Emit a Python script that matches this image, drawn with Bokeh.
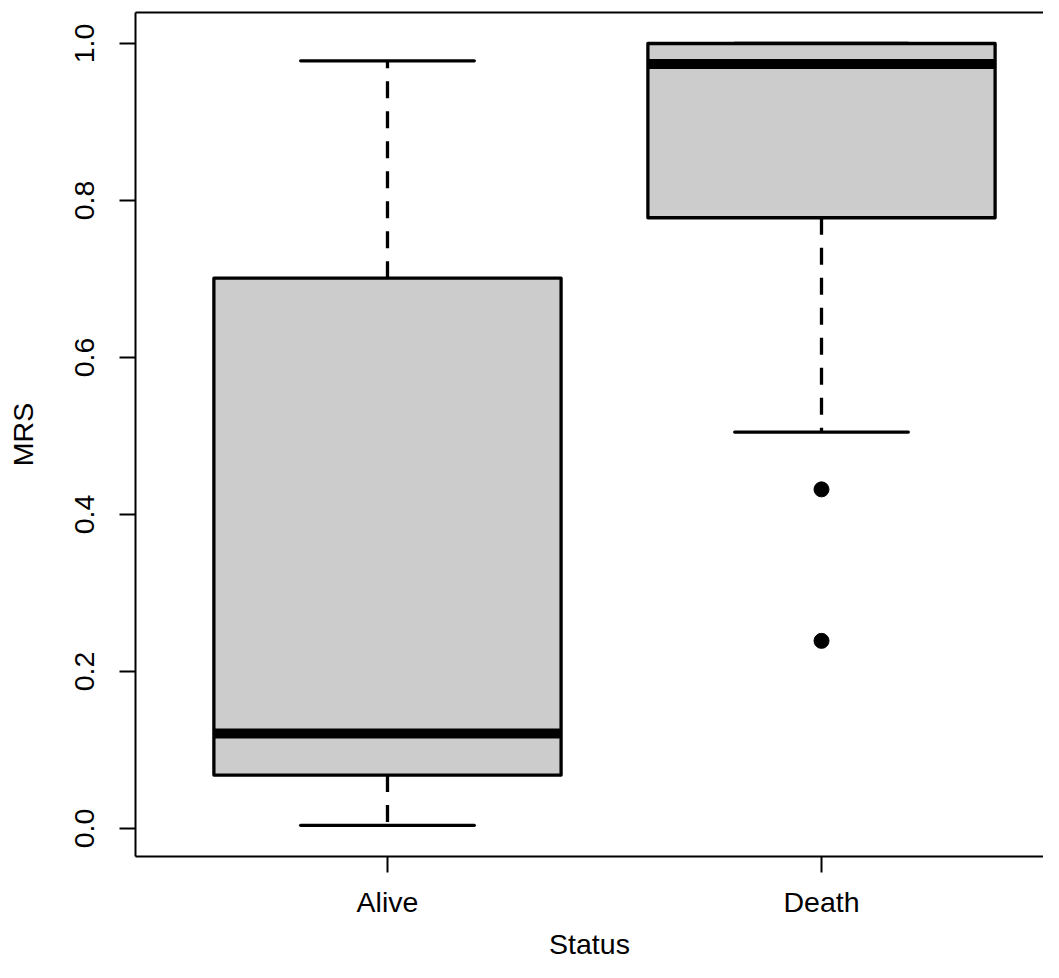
import numpy as np
from bokeh.plotting import figure
from bokeh.models import Range1d, FixedTicker, LinearAxis, PrintfTickFormatter, ColumnDataSource
from bokeh.embed import file_html
from bokeh.resources import INLINE

# ---- data ----
categories = ["Alive", "Death"]
lower_whisker = [0.004, 0.505]
q1 = [0.068, 0.778]
median = [0.121, 0.974]
q3 = [0.701, 1.000]
upper_whisker = [0.978, 1.000]
outlier_group = ["Death", "Death"]
outlier_values = [0.432, 0.239]
y_ticks = [0.0, 0.2, 0.4, 0.6, 0.8, 1.0]
x_label = "Status"
y_label = "MRS"

xpos = np.arange(1, len(categories) + 1, dtype=float)
box_half = 0.4
cap_half = 0.2

src = ColumnDataSource(dict(
    x=xpos,
    left=xpos - box_half, right=xpos + box_half,
    capl=xpos - cap_half, capr=xpos + cap_half,
    lw=lower_whisker, q1=q1, med=median, q3=q3, uw=upper_whisker,
))
out_x = [float(categories.index(g) + 1) for g in outlier_group]
out_src = ColumnDataSource(dict(x=out_x, y=outlier_values))

p = figure(
    width=1043, height=962,
    x_range=Range1d(0.4194, 2.5115), y_range=Range1d(-0.0357, 1.0395),
    output_backend="svg", toolbar_location=None,
    min_border_left=135, min_border_right=0, min_border_top=12, min_border_bottom=106,
)
p.outline_line_color = None
p.xgrid.visible = False
p.ygrid.visible = False
p.background_fill_color = "white"
p.border_fill_color = "white"

FONT = "Liberation Sans"
FS = "28.5px"

# whiskers (dashed)
p.segment(x0="x", y0="q3", x1="x", y1="uw", source=src, line_color="black",
          line_width=3.3, line_dash="17 13", line_cap="butt")
p.segment(x0="x", y0="q1", x1="x", y1="lw", source=src, line_color="black",
          line_width=3.3, line_dash="17 13", line_cap="butt")
# caps
p.segment(x0="capl", y0="uw", x1="capr", y1="uw", source=src, line_color="black",
          line_width=3.3, line_cap="round")
p.segment(x0="capl", y0="lw", x1="capr", y1="lw", source=src, line_color="black",
          line_width=3.3, line_cap="round")
# boxes
p.quad(left="left", right="right", bottom="q1", top="q3", source=src,
       fill_color="#CCCCCC", line_color="black", line_width=3.3, line_join="round")
# medians
p.segment(x0="left", y0="med", x1="right", y1="med", source=src, line_color="black",
          line_width=10, line_cap="butt")
# outliers
p.scatter(x="x", y="y", source=out_src, size=15, marker="circle",
          fill_color="black", line_color="black")

# x axis
xa = p.xaxis[0]
xa.ticker = FixedTicker(ticks=list(xpos))
overrides = {float(i + 1): c for i, c in enumerate(categories)}
overrides.update({int(i + 1): c for i, c in enumerate(categories)})
xa.major_label_overrides = overrides
xa.minor_tick_line_color = None
xa.major_tick_out = 16
xa.major_tick_in = 0
xa.major_tick_line_width = 2
xa.axis_line_width = 2
xa.major_label_text_font = FONT
xa.major_label_text_font_size = FS
xa.major_label_text_color = "black"
xa.major_label_standoff = 13
xa.axis_label = x_label
xa.axis_label_text_font = FONT
xa.axis_label_text_font_size = FS
xa.axis_label_text_font_style = "normal"
xa.axis_label_text_color = "black"
xa.axis_label_standoff = 7

# y axis
ya = p.yaxis[0]
ya.ticker = FixedTicker(ticks=y_ticks)
ya.formatter = PrintfTickFormatter(format="%.1f")
ya.minor_tick_line_color = None
ya.major_tick_out = 16
ya.major_tick_in = 0
ya.major_tick_line_width = 2
ya.axis_line_width = 2
ya.major_label_orientation = "vertical"
ya.major_label_text_font = FONT
ya.major_label_text_font_size = FS
ya.major_label_text_color = "black"
ya.major_label_standoff = 25
ya.axis_label = y_label
ya.axis_label_text_font = FONT
ya.axis_label_text_font_size = FS
ya.axis_label_text_font_style = "normal"
ya.axis_label_text_color = "black"
ya.axis_label_standoff = 34

# top frame line
top = LinearAxis(ticker=FixedTicker(ticks=[]), major_tick_out=0, major_tick_in=0,
                 minor_tick_line_color=None, major_label_text_font_size="0px",
                 major_label_standoff=0, axis_line_width=2)
p.add_layout(top, "above")

open("out.html", "w").write(file_html(p, INLINE))
